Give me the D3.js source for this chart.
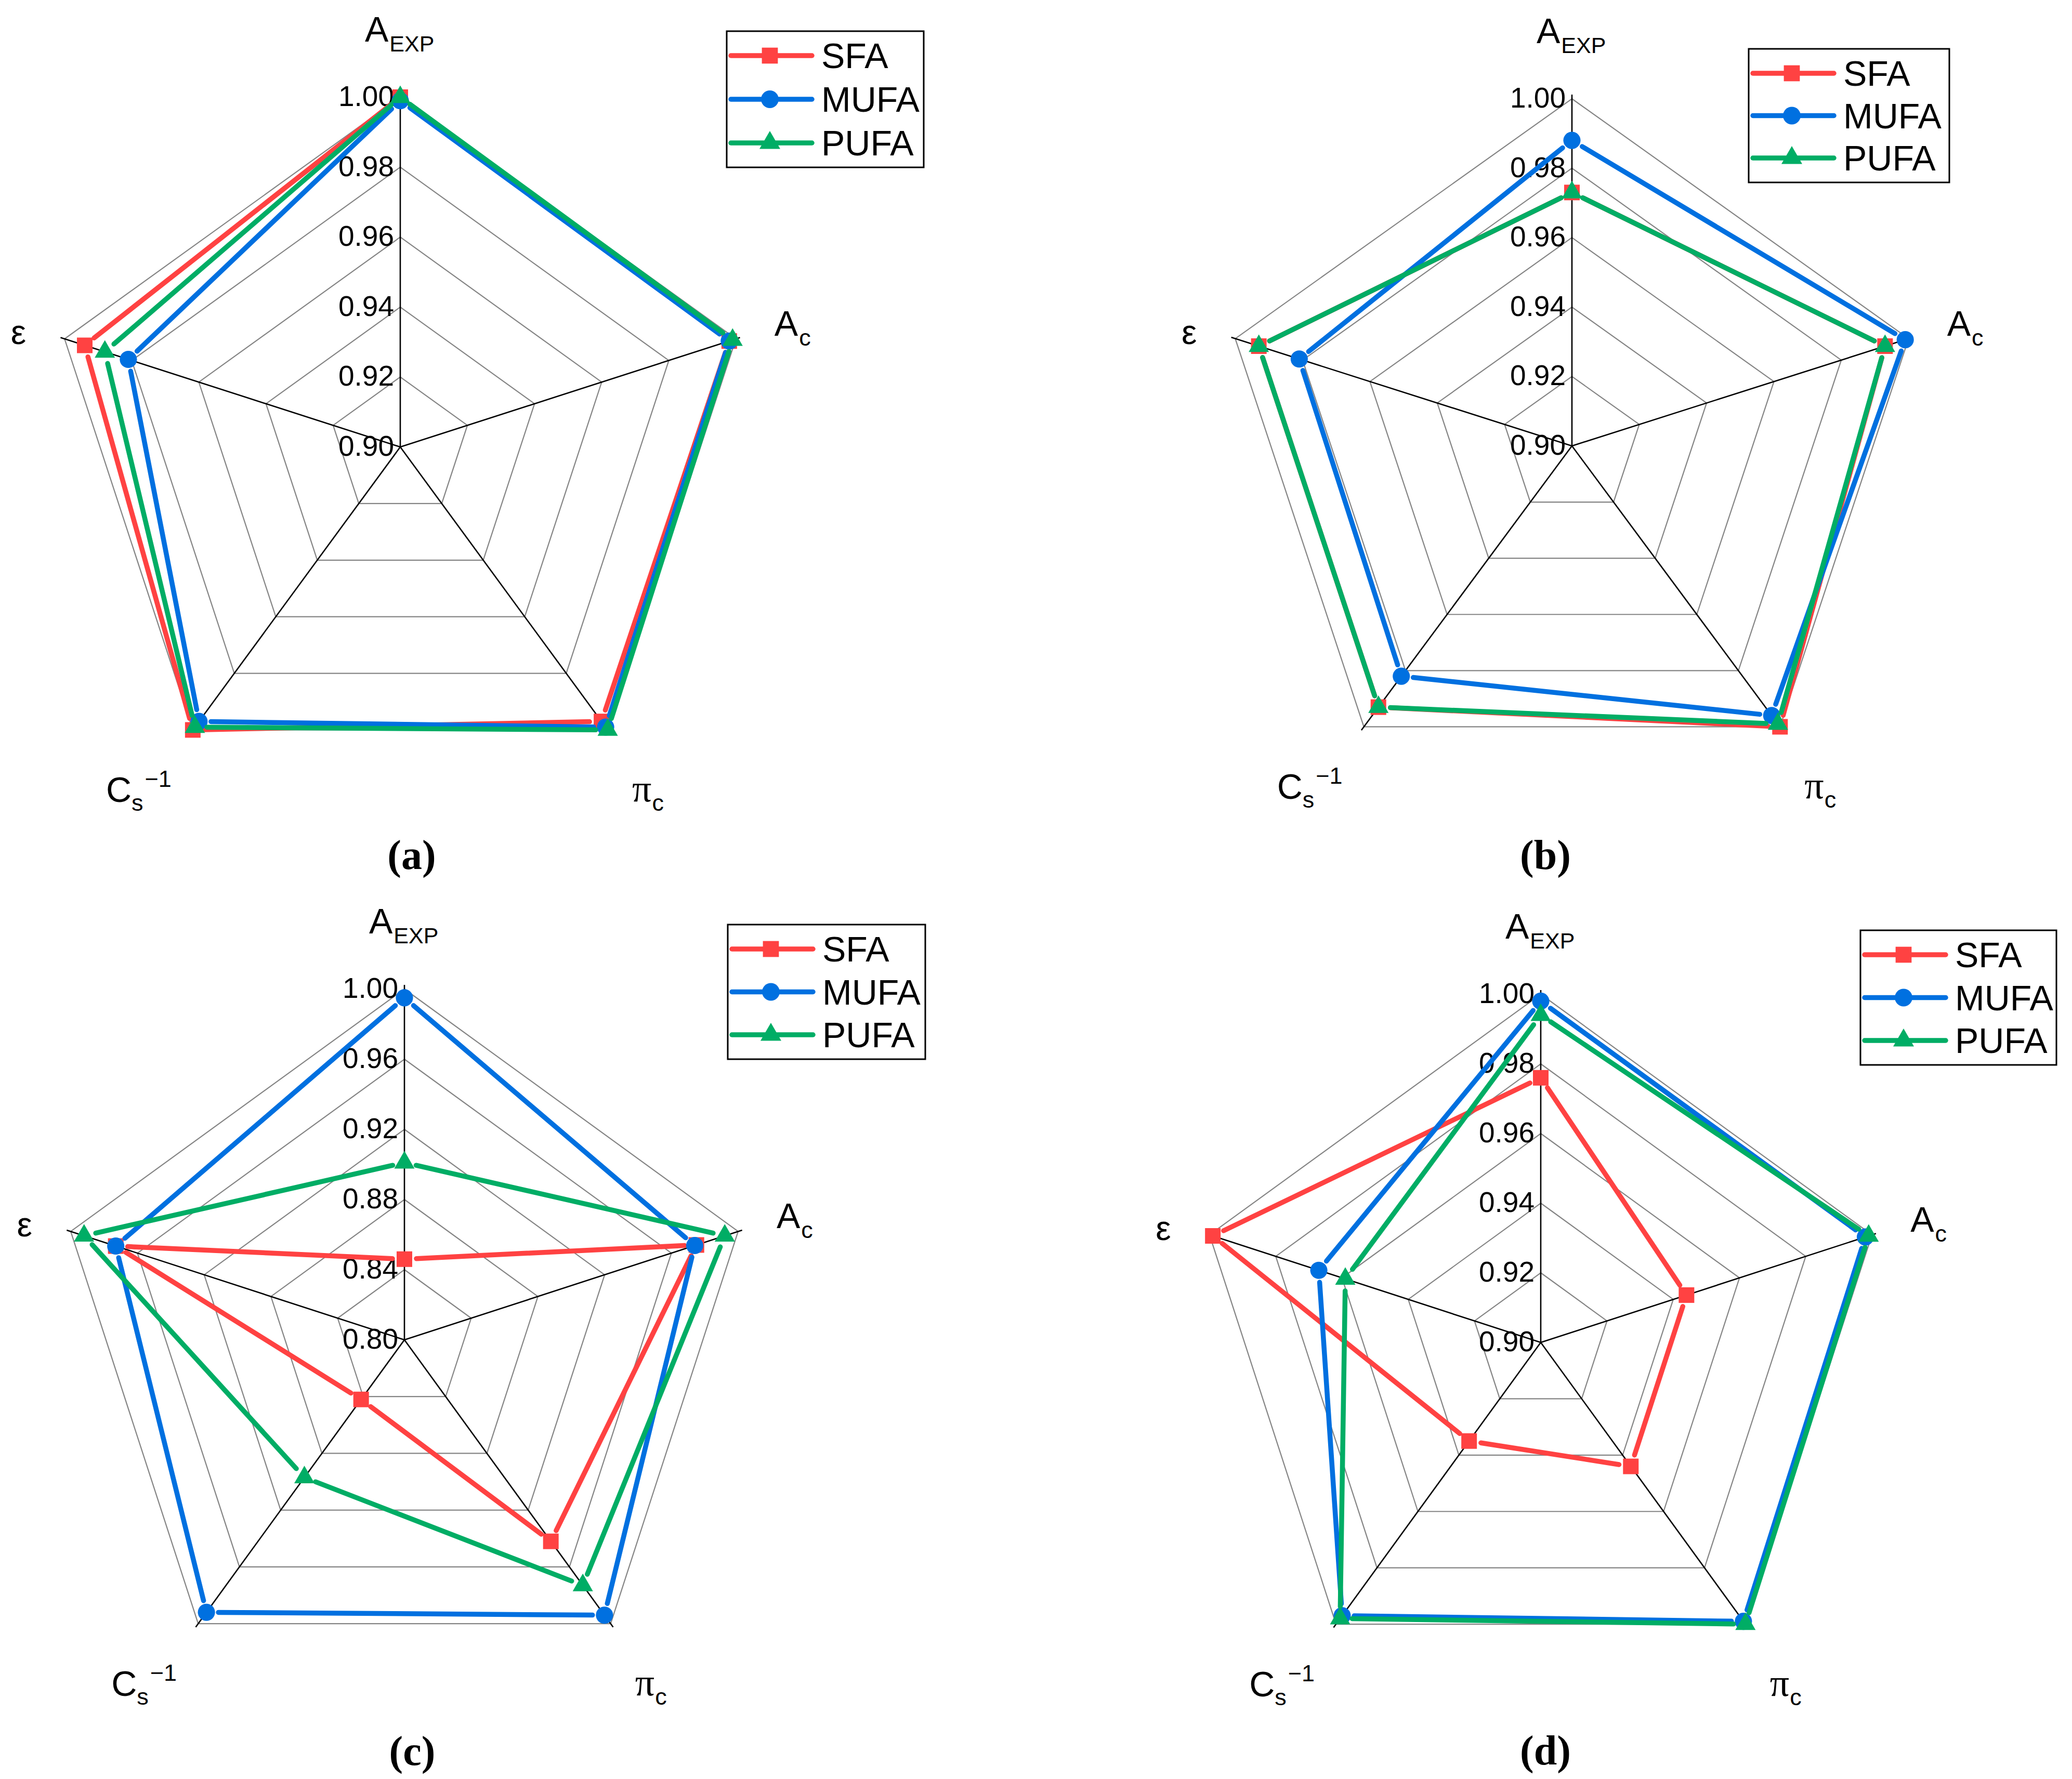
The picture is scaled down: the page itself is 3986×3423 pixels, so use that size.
<!DOCTYPE html>
<html>
<head>
<meta charset="utf-8">
<script src="https://cdn.jsdelivr.net/npm/d3@7"></script>
<style>
  html, body { margin: 0; padding: 0; background: #ffffff; }
  svg { display: block; }
</style>
</head>
<body>
<svg id="chart" width="3986" height="3423"></svg>
<script>
// ---------------- DATA ----------------
// axis order, clockwise from the top
const axisKeys = ["AEXP", "Ac", "pic", "Cs", "eps"];
const seriesNames = ["SFA", "MUFA", "PUFA"];
const panelLetters = ["(a)", "(b)", "(c)", "(d)"];

// radial tick labels for each panel
const ticksA = [0.90, 0.92, 0.94, 0.96, 0.98, 1.00];
const ticksB = [0.90, 0.92, 0.94, 0.96, 0.98, 1.00];
const ticksC = [0.80, 0.84, 0.88, 0.92, 0.96, 1.00];
const ticksD = [0.90, 0.92, 0.94, 0.96, 0.98, 1.00];

// values: [A_EXP, A_c, pi_c, Cs^-1, epsilon]
const sfaA  = [1.000, 0.998, 0.997, 1.000, 0.994];
const mufaA = [0.999, 0.998, 0.999, 0.997, 0.981];
const pufaA = [1.000, 0.999, 1.000, 0.999, 0.988];

const sfaB  = [0.973, 0.993, 1.000, 0.993, 0.993];
const mufaB = [0.988, 0.999, 0.996, 0.982, 0.981];
const pufaB = [0.973, 0.993, 0.999, 0.993, 0.993];

const sfaC  = [0.846, 0.975, 0.942, 0.842, 0.973];
const mufaC = [0.995, 0.974, 0.994, 0.992, 0.973];
const pufaC = [0.901, 0.992, 0.973, 0.897, 0.992];

const sfaD  = [0.976, 0.944, 0.944, 0.935, 0.999];
const mufaD = [0.998, 0.998, 0.999, 0.997, 0.967];
const pufaD = [0.994, 0.999, 1.000, 0.998, 0.959];

// ---------------- STYLE / LAYOUT ----------------
const seriesColors = ["#ff4242", "#0070e0", "#00ad65"];
const seriesSymbols = [d3.symbolSquare, d3.symbolCircle, d3.symbolTriangle];
const symbolSizes = [900, 860, 660];

const panels = [
  { ticks: ticksA, series: [sfaA, mufaA, pufaA], cx: 770, cy: 860, rx: 679, ry: 673,
    legend: [1398, 60, 379, 262], label: [792, 1672] },
  { ticks: ticksB, series: [sfaB, mufaB, pufaB], cx: 3024, cy: 858, rx: 681, ry: 668,
    legend: [3364, 94, 386, 257], label: [2973, 1672] },
  { ticks: ticksC, series: [sfaC, mufaC, pufaC], cx: 778, cy: 2578, rx: 675, ry: 675,
    legend: [1400, 1779, 380, 259], label: [793, 3396] },
  { ticks: ticksD, series: [sfaD, mufaD, pufaD], cx: 2964, cy: 2583, rx: 670, ry: 670,
    legend: [3579, 1790, 377, 259], label: [2973, 3395] }
];

const SANS = "'Liberation Sans', Arial, Helvetica, sans-serif";
const SERIF = "'Liberation Serif', 'Times New Roman', serif";
const svg = d3.select("#chart");
const fmt = d3.format(".2f");

const angle = d3.scaleLinear().domain([0, axisKeys.length]).range([0, 2 * Math.PI]);

panels.forEach((p, pi) => {
  const g = svg.append("g");
  const dom = [p.ticks[0], p.ticks[p.ticks.length - 1]];
  const r = d3.scaleLinear().domain(dom).range([0, 1]);
  const px = (v, i) => p.cx + r(v) * p.rx * Math.sin(angle(i));
  const py = (v, i) => p.cy - r(v) * p.ry * Math.cos(angle(i));

  // grid rings
  p.ticks.slice(1).forEach(t => {
    const pts = axisKeys.map((k, i) => [px(t, i), py(t, i)]);
    g.append("path")
      .attr("d", d3.line().curve(d3.curveLinearClosed)(pts))
      .attr("fill", "none").attr("stroke", "#858585").attr("stroke-width", 2.2);
  });

  // axes
  axisKeys.forEach((k, i) => {
    const ext = 1.012;
    g.append("line")
      .attr("x1", p.cx).attr("y1", p.cy)
      .attr("x2", p.cx + ext * p.rx * Math.sin(angle(i)))
      .attr("y2", p.cy - ext * p.ry * Math.cos(angle(i)))
      .attr("stroke", "#000").attr("stroke-width", 2.6);
  });

  // tick labels along the top axis
  p.ticks.forEach(t => {
    g.append("text")
      .attr("x", px(t, 0) - 12).attr("y", py(t, 0) + 17)
      .attr("text-anchor", "end")
      .attr("font-family", SANS).attr("font-size", 55)
      .text(fmt(t));
  });

  // series
  p.series.forEach((vals, si) => {
    const pts = vals.map((v, i) => [px(v, i), py(v, i)]);
    const gap = 23;
    const sg = g.append("g");
    pts.forEach((a, i) => {
      const b = pts[(i + 1) % pts.length];
      const dx = b[0] - a[0], dy = b[1] - a[1];
      const len = Math.hypot(dx, dy);
      if (len <= 2 * gap + 2) return;
      const ux = dx / len, uy = dy / len;
      sg.append("line")
        .attr("x1", a[0] + ux * gap).attr("y1", a[1] + uy * gap)
        .attr("x2", b[0] - ux * gap).attr("y2", b[1] - uy * gap)
        .attr("stroke", seriesColors[si]).attr("stroke-width", 9.5)
        .attr("stroke-linecap", "round");
    });
    pts.forEach(pt => {
      sg.append("path")
        .attr("d", d3.symbol().type(seriesSymbols[si]).size(symbolSizes[si])())
        .attr("transform", `translate(${pt[0]},${pt[1]})`)
        .attr("fill", seriesColors[si]);
    });
  });

  // axis labels
  const vx = i => px(dom[1], i), vy = i => py(dom[1], i);
  // A_EXP
  let t = g.append("text").attr("x", vx(0) - 68).attr("y", vy(0) - 107)
    .attr("font-family", SANS).attr("font-size", 68);
  t.append("tspan").text("A");
  t.append("tspan").attr("font-size", 43).attr("dy", 19).attr("dx", 2).text("EXP");
  // A_c
  t = g.append("text").attr("x", vx(1) + 74).attr("y", vy(1) - 6)
    .attr("font-family", SANS).attr("font-size", 68);
  t.append("tspan").text("A");
  t.append("tspan").attr("font-size", 45).attr("dy", 19).attr("dx", 2).text("c");
  // pi_c
  t = g.append("text").attr("x", vx(2) + 47).attr("y", vy(2) + 138)
    .attr("font-family", SERIF).attr("font-size", 74);
  t.append("tspan").text("π");
  t.append("tspan").attr("font-family", SANS).attr("font-size", 45).attr("dy", 18).attr("dx", 1).text("c");
  // Cs^-1
  t = g.append("text").attr("x", vx(3) - 167).attr("y", vy(3) + 139)
    .attr("font-family", SANS).attr("font-size", 68);
  t.append("tspan").text("C");
  t.append("tspan").attr("font-size", 45).attr("dy", 17).text("s");
  t.append("tspan").attr("font-size", 45).attr("dy", -46).attr("dx", 3).text("−1");
  // epsilon
  g.append("text").attr("x", vx(4) - 74).attr("y", vy(4) + 10)
    .attr("text-anchor", "end")
    .attr("font-family", SANS).attr("font-size", 66).text("ε");

  // legend
  const [lx, ly, lw, lh] = p.legend;
  const lg = g.append("g");
  lg.append("rect").attr("x", lx).attr("y", ly).attr("width", lw).attr("height", lh)
    .attr("fill", "#fff").attr("stroke", "#000").attr("stroke-width", 3);
  const rowStep = (lh - 94) / 2;
  seriesNames.forEach((name, si) => {
    const yy = ly + 47 + si * rowStep;
    lg.append("line").attr("x1", lx + 8).attr("x2", lx + 164).attr("y1", yy).attr("y2", yy)
      .attr("stroke", seriesColors[si]).attr("stroke-width", 9.5).attr("stroke-linecap", "round");
    lg.append("path")
      .attr("d", d3.symbol().type(seriesSymbols[si]).size(symbolSizes[si] * 1.05)())
      .attr("transform", `translate(${lx + 83},${yy})`)
      .attr("fill", seriesColors[si]);
    lg.append("text").attr("x", lx + 182).attr("y", yy + 24)
      .attr("font-family", SANS).attr("font-size", 68).text(name);
  });

  // panel letter
  g.append("text").attr("x", p.label[0]).attr("y", p.label[1])
    .attr("text-anchor", "middle")
    .attr("font-family", SERIF).attr("font-weight", "bold").attr("font-size", 80)
    .text(panelLetters[pi]);
});
</script>
</body>
</html>
